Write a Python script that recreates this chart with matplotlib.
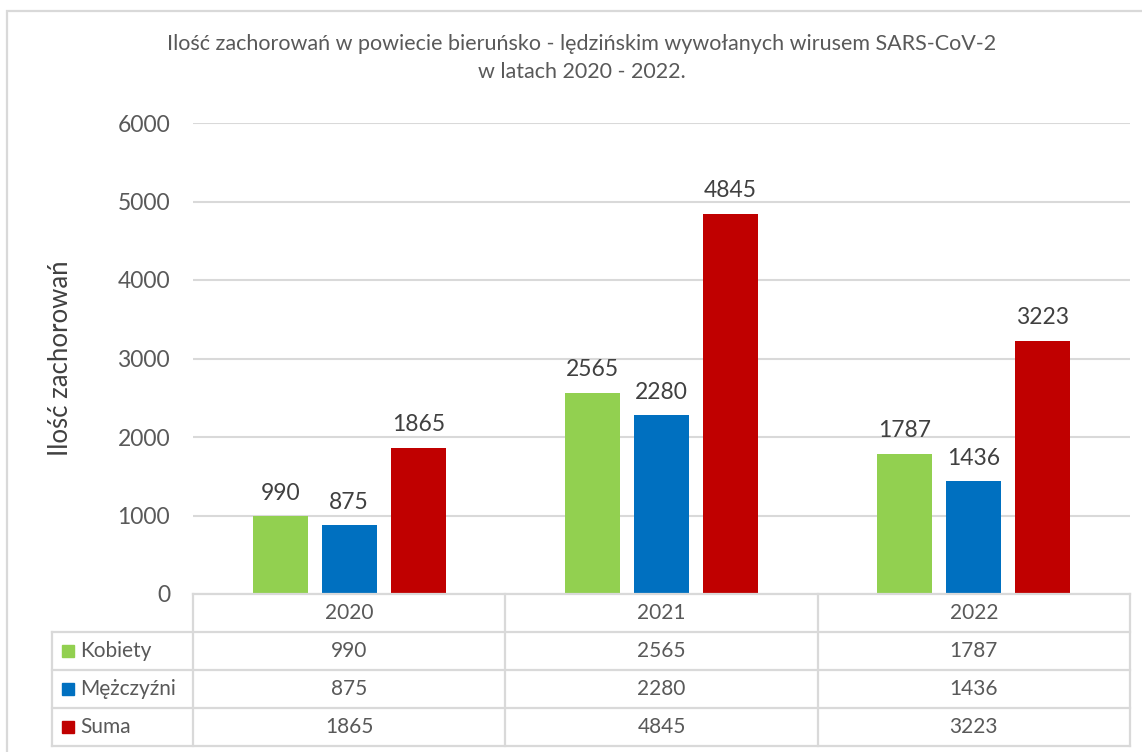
"""
Zachorowania na COVID-19 w powiecie bieruńsko-lędzińskim, 2020-2022.
Wykres słupkowy w stylu Excela z tabelą danych pod osią X.
"""

import matplotlib
matplotlib.use("Agg")
import matplotlib.pyplot as plt
from matplotlib.patches import Rectangle
import numpy as np

plt.rcParams["font.family"] = ["Lato", "DejaVu Sans"]

# --- dane ---
LATA = ["2020", "2021", "2022"]
SERIE = ["Kobiety", "Mężczyźni", "Suma"]
KOBIETY = [990, 2565, 1787]
MEZCZYZNI = [875, 2280, 1436]
SUMA = [1865, 4845, 3223]
Y_TICKS = [0, 1000, 2000, 3000, 4000, 5000, 6000]

TYTUL = ("Ilość zachorowań w powiecie bieruńsko - lędzińskim wywołanych wirusem SARS-CoV-2\n"
         "w latach 2020 - 2022.")
OS_Y = "Ilość zachorowań"

KOLORY = ["#92d050", "#0070c0", "#c00000"]
SZARY_TXT = "#595959"
SZARY_LIN = "#d9d9d9"

W, H = 1142, 752  # piksele


def main() -> None:
    fig = plt.figure(figsize=(W / 100, H / 100), dpi=100)

    # ramka całego wykresu (prawa i dolna krawędź poza obrazem)
    fig.patches.append(Rectangle((7 / W, -0.05), 1.1, 1 - 11 / H + 0.05,
                                 transform=fig.transFigure, fill=False,
                                 edgecolor=SZARY_LIN, linewidth=1.6))

    # obszar słupków: x 193..1130 px, y 123..594 px
    ax = fig.add_axes([193 / W, (H - 594) / H, (1130 - 193) / W, (594 - 123) / H])
    dane = [KOBIETY, MEZCZYZNI, SUMA]
    x = np.arange(len(LATA))
    szer, krok = 0.176, 0.221
    for i, (vals, kol) in enumerate(zip(dane, KOLORY)):
        pos = x + (i - 1) * krok
        bars = ax.bar(pos, vals, width=szer, color=kol, zorder=3)
        ax.bar_label(bars, labels=[str(v) for v in vals], padding=9,
                     fontsize=16.5, color="#404040")

    ax.set_xlim(-0.5, 2.5)
    ax.set_ylim(0, 6000)
    ax.set_yticks(Y_TICKS)
    ax.set_yticklabels([str(t) for t in Y_TICKS], fontsize=16.5, color=SZARY_TXT)
    ax.tick_params(axis="y", length=0, pad=16.5)
    ax.set_xticks([])
    ax.grid(axis="y", color=SZARY_LIN, linewidth=1.5, zorder=0)
    for s in ax.spines.values():
        s.set_visible(False)
    ax.set_ylabel(OS_Y, fontsize=18.5, color="#404040")
    ax.yaxis.set_label_coords(-0.128, 0.5)

    fig.text(582 / W, 1 - 58 / H, TYTUL, ha="center", va="center",
             fontsize=15.5, color=SZARY_TXT, linespacing=1.45)

    # tabela danych: x 52..1130 px, y 594..746 px, 4 wiersze
    lab_w = (193 - 52) / ((1130 - 193) / 3)  # szerokość kolumny etykiet w jednostkach kategorii
    x0 = -0.5 - lab_w
    tab = fig.add_axes([52 / W, (H - 746) / H, (1130 - 52) / W, (746 - 594) / H])
    tab.set_xlim(x0, 2.5)
    tab.set_ylim(4, 0)
    tab.axis("off")
    lw = 1.6
    tab.plot([-0.5, 2.5], [0, 0], color=SZARY_LIN, lw=lw, clip_on=False)
    for r in range(1, 5):
        tab.plot([x0, 2.5], [r, r], color=SZARY_LIN, lw=lw, clip_on=False)
    tab.plot([x0, x0], [1, 4], color=SZARY_LIN, lw=lw, clip_on=False)
    for c in [-0.5, 0.5, 1.5, 2.5]:
        tab.plot([c, c], [0, 4], color=SZARY_LIN, lw=lw, clip_on=False)

    for j, rok in enumerate(LATA):
        tab.text(j, 0.5, rok, ha="center", va="center", fontsize=15, color=SZARY_TXT)
    px = lab_w / (193 - 52)  # jednostki na piksel
    for i, (nazwa, vals, kol) in enumerate(zip(SERIE, dane, KOLORY)):
        r = i + 1.5
        tab.plot([x0 + 16 * px], [r], marker="s", markersize=8.5, color=kol,
                 linestyle="none", clip_on=False)
        tab.text(x0 + 28 * px, r, nazwa, ha="left", va="center",
                 fontsize=15, color=SZARY_TXT)
        for j, v in enumerate(vals):
            tab.text(j, r, str(v), ha="center", va="center",
                     fontsize=15, color=SZARY_TXT)

    fig.savefig("out.png", dpi=100)
    plt.close(fig)


if __name__ == "__main__":
    main()
